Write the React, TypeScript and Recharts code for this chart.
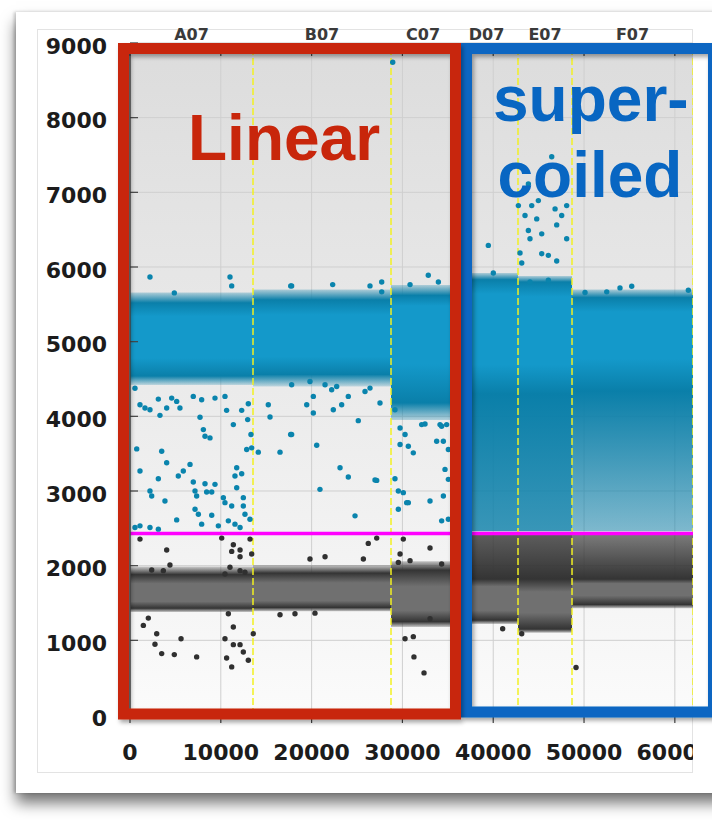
import { ComposedChart, Area, Scatter, XAxis, YAxis, CartesianGrid, ReferenceLine } from 'recharts';

// droplet amplitude plot, one strip per well
const wells = ['A07', 'B07', 'C07', 'D07', 'E07', 'F07'];
const wellStart = [0, 13546, 28744, 35800, 42731, 48678];
const wellEnd = [13546, 28744, 35800, 42731, 48678, 62000];

// cluster shading levels per well, top to bottom:
// [outer top, dense top, light core top, light core bottom, dense bottom, outer bottom]
const posLevels = [
  [5660, 5520, 5340, 4780, 4540, 4420],
  [5700, 5560, 5360, 4800, 4560, 4400],
  [5760, 5620, 5480, 4700, 4180, 3950],
  [5920, 5830, 5640, 4690, 4300, 2460],
  [5880, 5800, 5600, 4690, 4300, 2460],
  [5700, 5590, 5400, 4770, 4340, 2460],
];
const negLevels = [
  [1990, 1880, 1760, 1520, 1430, 1380],
  [2010, 1900, 1770, 1530, 1440, 1390],
  [2060, 1940, 1720, 1400, 1250, 1180],
  [2430, 1820, 1720, 1400, 1270, 1220],
  [2430, 1820, 1650, 1370, 1150, 1100],
  [2430, 1820, 1760, 1600, 1480, 1430],
];
// how filled the loose tails are (scattered droplets between the clusters)
const posTailFill = [0.2, 0.2, 0.25, 0.8, 0.8, 0.5];
const negTailFill = [0.2, 0.2, 0.25, 0.78, 0.78, 0.62];

const threshold = 2430;

const blueStrays: [number, number][] = [
  [2200, 5867], [11013, 5867], [11200, 5747], [4880, 5653], [17700, 5747],
  [550, 4377], [1100, 4156], [1650, 4111], [2200, 4089], [3120, 4231], [3300, 4013], [4040, 4111],
  [4590, 4244], [5140, 4200], [5500, 4111], [6970, 4267], [7710, 3987], [7890, 4222], [9360, 4244],
  [10460, 4267], [10640, 4080], [11380, 3889], [12300, 4080], [13030, 4169], [12960, 3956], [13320, 3756],
  [14130, 3520], [15230, 4156], [15420, 3991], [16520, 3520], [17690, 3756], [8080, 3822], [8260, 3733],
  [8810, 3711], [740, 3564], [3490, 3533], [4040, 3378], [1100, 3267], [3120, 3164], [5320, 3200],
  [5870, 3267], [6610, 3356], [6970, 3120], [8260, 3098], [9360, 3089], [11750, 3311], [11560, 3200],
  [12300, 3231], [11750, 3044], [12850, 3556], [2200, 3000], [2390, 2933], [3850, 2867], [7160, 3000],
  [7340, 2933], [8440, 2987], [9000, 2987], [10280, 2911], [7160, 2756], [7530, 2689], [9000, 2676],
  [10460, 2844], [11200, 2800], [12480, 2911], [12480, 2800], [12660, 2689], [5140, 2613], [7890, 2556],
  [9730, 2533], [10830, 2600], [11560, 2556], [12120, 2511], [550, 2511], [1100, 2533], [2200, 2511],
  [3120, 2489], [13400, 3578], [13210, 2622],
  [17800, 5747], [22320, 5764], [26430, 5747], [27720, 5800], [27720, 5667], [30840, 5764], [32850, 5889],
  [33960, 5800], [17800, 4422], [19820, 4467], [21480, 4422], [22210, 4356], [22760, 4400], [20190, 4267],
  [19460, 4156], [20190, 4044], [22390, 4089], [23310, 4156], [24040, 4267], [25880, 4333], [26430, 4378],
  [27530, 4178], [25140, 3942], [17800, 3756], [20560, 3613], [23130, 3311], [24040, 3187], [27170, 3142],
  [20920, 3022], [24780, 2667], [26980, 3147],
  [29180, 4089], [29740, 3844], [30290, 3756], [29740, 3622], [30650, 3600], [31200, 3511], [32490, 3898],
  [33770, 3667], [34510, 3667], [34320, 3867], [34870, 3889], [29180, 3164], [29550, 3000], [30100, 2978],
  [30470, 2844], [29550, 2756], [33040, 2867], [34510, 2933], [34320, 2600], [35060, 2622], [35060, 3156],
  [34690, 3289], [35060, 3556], [32120, 3889], [34140, 3889], [30650, 2844], [28930, 8742],
  [46440, 7476], [43870, 7111], [45340, 7044], [42770, 6822], [44240, 6822], [44970, 6889], [43500, 6689],
  [44790, 6644], [46810, 6778], [48090, 6822], [47540, 6689], [46990, 6564], [43870, 6489], [45340, 6444],
  [44050, 6378], [48090, 6378], [39460, 6289], [42950, 6187], [45340, 6178], [46070, 6156], [46990, 6080],
  [43140, 6053], [40010, 5920], [44050, 5800], [46070, 5822], [50110, 5658], [53960, 5720], [55250, 5742],
  [52500, 5667], [61490, 5689],
];

const blackStrays: [number, number][] = [
  [1100, 2356], [4040, 2209], [10100, 2369], [13220, 2356], [11380, 2280], [11200, 2191], [12120, 2209],
  [12120, 2120], [4400, 2009], [2390, 1942], [3670, 1933], [11010, 1978], [12120, 1933], [12660, 1911],
  [10460, 1889], [13400, 2156],
  [2020, 1298], [1470, 1200], [2940, 1089], [2750, 947], [3490, 822], [4880, 809], [5620, 1022], [7340, 778],
  [10460, 1022], [10640, 764], [11200, 644], [11380, 1178], [11380, 942], [12120, 942], [12480, 844],
  [13030, 733], [10830, 1356], [13580, 1089], [16520, 1342],
  [26240, 2298], [27170, 2369], [30100, 2356], [33040, 2236], [29740, 2156], [29550, 2044], [30840, 2067],
  [25700, 2089], [21480, 2120], [34320, 2022], [19820, 2089], [18170, 1356], [20370, 1364], [30290, 1022],
  [31200, 1049], [31270, 778], [32380, 564], [33040, 1289],
  [41040, 1156], [43140, 1089], [49120, 636],
];

const xTicks = [0, 10000, 20000, 30000, 40000, 50000, 60000];
const yTicks = [0, 1000, 2000, 3000, 4000, 5000, 6000, 7000, 8000, 9000];

// two rows per well; each well's cluster is its own range series
const bandRows = wells.flatMap((_, i) =>
  [wellStart[i], wellEnd[i]].map((x) => {
    const row: Record<string, unknown> = { x };
    wells.forEach((__, j) => {
      row[`pos${j}`] = j === i ? [posLevels[j][5], posLevels[j][0]] : null;
      row[`neg${j}`] = j === i ? [negLevels[j][5], negLevels[j][0]] : null;
    });
    return row;
  }),
);

const wellCenters = wells.map((_, i) => (wellStart[i] + wellEnd[i]) / 2);
const blueDots = blueStrays.map(([x, y]) => ({ x, y }));
const blackDots = blackStrays.map(([x, y]) => ({ x, y }));

const PLOT_LEFT = 130;
const PLOT_TOP = 43;
const PLOT_BOTTOM = 715;
const TICK_FONT = '"DejaVu Sans", sans-serif';

const BLUE = '#0a7fa9';
const BLUE_LIGHT = '#1499ca';
const DARK = '#343434';
const GREY_CORE = '#707070';

// vertical shading for one cluster strip: dim tails, dense edges, lighter core
function ClusterGradient({ id, levels, edge, core, topOpacity, bottomOpacity }: {
  id: string; levels: number[]; edge: string; core: string; topOpacity: number; bottomOpacity: number;
}) {
  const hi = levels[0];
  const lo = levels[5];
  const off = (v: number) => `${((hi - v) / (hi - lo)) * 100}%`;
  return (
    <linearGradient id={id} x1="0" y1="0" x2="0" y2="1">
      <stop offset={off(levels[0])} stopColor={edge} stopOpacity={topOpacity} />
      <stop offset={off(levels[1])} stopColor={edge} stopOpacity={1} />
      <stop offset={off(levels[2])} stopColor={core} stopOpacity={1} />
      <stop offset={off(levels[3])} stopColor={core} stopOpacity={1} />
      <stop offset={off(levels[4])} stopColor={edge} stopOpacity={1} />
      <stop offset={off(levels[5])} stopColor={edge} stopOpacity={bottomOpacity} />
    </linearGradient>
  );
}

function LeftTick({ y, payload }: any) {
  return (
    <g>
      <line x1={PLOT_LEFT} x2={PLOT_LEFT + 8} y1={y} y2={y} stroke="#444" strokeWidth={1.2} />
      <text x={107} y={y + 3} textAnchor="end" dominantBaseline="central"
        fontFamily={TICK_FONT} fontWeight="bold" fontSize={22} fill="#1c1c1c">
        {payload.value}
      </text>
    </g>
  );
}

function BottomTick({ x, payload }: any) {
  return (
    <g>
      <line x1={x} x2={x} y1={PLOT_BOTTOM} y2={PLOT_BOTTOM + 8} stroke="#444" strokeWidth={1.2} />
      <line x1={x} x2={x} y1={PLOT_TOP} y2={PLOT_TOP + 13} stroke="#444" strokeWidth={1.2} />
      <text x={x} y={752} textAnchor="middle" dominantBaseline="central"
        fontFamily={TICK_FONT} fontWeight="bold" fontSize={22} fill="#1c1c1c">
        {payload.value}
      </text>
    </g>
  );
}

function dot(fill: string) {
  return (p: any) => <circle cx={p.cx} cy={p.cy} r={2.7} fill={fill} />;
}

const areaProps = {
  type: 'linear' as const,
  stroke: 'none',
  fillOpacity: 1,
  dot: false,
  activeDot: false,
  isAnimationActive: false,
};

export default function App() {
  return (
    <div style={{ position: 'absolute', left: 0, top: 0, width: 712, height: 820, overflow: 'hidden', background: '#fff' }}>
      {/* card with shadow */}
      <div style={{
        position: 'absolute', left: 16, top: 12, width: 720, height: 781, background: '#fff',
        boxShadow: '0 10px 14px rgba(0,0,0,0.55), -2px 0 3px rgba(0,0,0,0.2)',
      }} />
      <div style={{
        position: 'absolute', left: 37, top: 29, width: 656, height: 744,
        border: '1px solid #e3e3e3', boxSizing: 'border-box',
      }} />

      <div style={{ position: 'absolute', left: 0, top: 0, width: 693, height: 820, overflow: 'hidden' }}>
        <ComposedChart width={712} height={820} data={bandRows} margin={{ top: PLOT_TOP, right: 19, bottom: 0, left: 0 }}>
          <defs>
            <linearGradient id="plotBg" x1="0" y1="0" x2="0" y2="1">
              <stop offset="0%" stopColor="#dcdcdc" />
              <stop offset="55%" stopColor="#ececec" />
              <stop offset="100%" stopColor="#fbfbfb" />
            </linearGradient>
            {wells.map((w, i) => (
              <ClusterGradient key={`gp${w}`} id={`gpos${i}`} levels={posLevels[i]} edge={BLUE} core={BLUE_LIGHT}
                topOpacity={0.25} bottomOpacity={posTailFill[i]} />
            ))}
            {wells.map((w, i) => (
              <ClusterGradient key={`gn${w}`} id={`gneg${i}`} levels={negLevels[i]} edge={DARK} core={GREY_CORE}
                topOpacity={negTailFill[i]} bottomOpacity={0.25} />
            ))}
          </defs>
          <CartesianGrid stroke="#cfcfcf" fill="url(#plotBg)" fillOpacity={1} />
          <XAxis dataKey="x" type="number" domain={[0, 62000]} ticks={xTicks} interval={0}
            height={105} axisLine={false} tickLine={false} tick={BottomTick} allowDataOverflow />
          <YAxis type="number" domain={[0, 9000]} ticks={yTicks} interval={0} width={130}
            axisLine={{ stroke: '#555', strokeWidth: 1.5 }} tickLine={false} tick={LeftTick} />

          {wells.map((w, i) => (
            <Area key={`p${w}`} dataKey={`pos${i}`} {...areaProps} fill={`url(#gpos${i})`} />
          ))}
          {wells.map((w, i) => (
            <Area key={`n${w}`} dataKey={`neg${i}`} {...areaProps} fill={`url(#gneg${i})`} />
          ))}

          <Scatter data={blueDots} dataKey="y" shape={dot('#0a84ad')} isAnimationActive={false} />
          <Scatter data={blackDots} dataKey="y" shape={dot('#303030')} isAnimationActive={false} />

          {/* well dividers */}
          {wellEnd.map((x) => (
            <ReferenceLine key={x} x={x} stroke="#f2f020" strokeOpacity={0.75} strokeWidth={2} strokeDasharray="7 3" />
          ))}
          {/* well names above the plot */}
          {wellCenters.map((x, i) => (
            <ReferenceLine key={wells[i]} x={x} stroke="none"
              label={{ value: wells[i], position: 'top', offset: 3, fill: '#3a3a3a', fontSize: 16, fontWeight: 'bold', fontFamily: TICK_FONT }} />
          ))}
          <ReferenceLine y={threshold} stroke="#ff00ff" strokeWidth={3.5} />
        </ComposedChart>
      </div>

      {/* annotation boxes */}
      <svg width={712} height={820} style={{ position: 'absolute', left: 0, top: 0, pointerEvents: 'none' }}>
        <defs>
          <filter id="boxShadow" x="-5%" y="-5%" width="110%" height="110%">
            <feDropShadow dx="2" dy="3" stdDeviation="2" floodColor="#000" floodOpacity="0.35" />
          </filter>
        </defs>
        <rect x={466.5} y={48.5} width={247} height={663.5} fill="none" stroke="#0866c2" strokeWidth={11} filter="url(#boxShadow)" />
        <rect x={123.5} y={48.5} width={332} height={665.5} fill="none" stroke="#c8260b" strokeWidth={11} filter="url(#boxShadow)" />
        <g fontFamily='"Liberation Sans", Arial, sans-serif' fontWeight="bold" fontSize={64}>
          <text x={188} y={160} fill="#c8260b">Linear</text>
          <text x={493} y={121} fill="#0866c2">super-</text>
          <text x={497.5} y={197} fill="#0866c2">coiled</text>
        </g>
      </svg>
    </div>
  );
}
